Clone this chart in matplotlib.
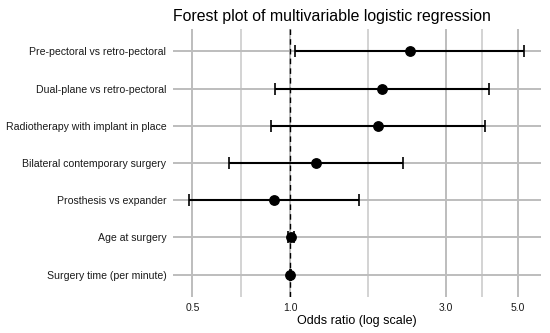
import numpy as np
import matplotlib
matplotlib.use("Agg")
from matplotlib import pyplot as plt
from matplotlib.ticker import FixedLocator, NullFormatter

plt.rcParams['font.family'] = ['Liberation Sans', 'DejaVu Sans']

labels = [
    "Pre-pectoral vs retro-pectoral",
    "Dual-plane vs retro-pectoral",
    "Radiotherapy with implant in place",
    "Bilateral contemporary surgery",
    "Prosthesis vs expander",
    "Age at surgery",
    "Surgery time (per minute)",
]
odds = [2.32, 1.91, 1.85, 1.20, 0.89, 1.005, 1.00]
ci_low = [1.03, 0.895, 0.873, 0.65, 0.49, 0.985, 0.998]
ci_high = [5.19, 4.08, 3.95, 2.22, 1.62, 1.025, 1.002]

major_ticks = [0.5, 1.0, 3.0, 5.0]
minor_ticks = [0.707, 1.732, 3.873]

fig = plt.figure(figsize=(5.5, 3.33), dpi=100)
ax = fig.add_axes([0.315, 0.108, 0.669, 0.805])

y = np.arange(len(labels))[::-1]
odds = np.array(odds)
lo = odds - np.array(ci_low)
hi = np.array(ci_high) - odds

ax.set_xscale('log')
ax.set_xlim(0.437, 5.88)
ax.set_ylim(-0.6, len(labels) - 0.4)

for t in major_ticks:
    ax.axvline(t, color='#bdbdbd', lw=1.4, zorder=0)
for t in minor_ticks:
    ax.axvline(t, color='#c8c8c8', lw=1.1, zorder=0)
for yy in y:
    ax.axhline(yy, color='#bdbdbd', lw=1.4, zorder=0)

ax.axvline(1.0, color='black', lw=1.0, ls=(0, (4, 3)), zorder=1)

ax.errorbar(odds, y, xerr=[lo, hi], fmt='none', ecolor='black',
            elinewidth=1.5, capsize=4, capthick=1.2, zorder=2)
ax.scatter(odds, y, s=46, color='black', zorder=3)

ax.set_yticks(y)
ax.set_yticklabels(labels, fontsize=7.6, color='#1a1a1a')
ax.xaxis.set_major_locator(FixedLocator(major_ticks))
ax.xaxis.set_minor_locator(FixedLocator([]))
ax.xaxis.set_minor_formatter(NullFormatter())
ax.set_xticklabels(["0.5", "1.0", "3.0", "5.0"], fontsize=7.5, color='#1a1a1a')
ax.tick_params(length=0, pad=4)
ax.tick_params(axis='y', pad=5)

for s in ax.spines.values():
    s.set_visible(False)

ax.set_xlabel("Odds ratio (log scale)", fontsize=9, labelpad=2)
ax.set_title("Forest plot of multivariable logistic regression", fontsize=11.4,
             loc='left', pad=6)

fig.savefig("out.png", dpi=100)
